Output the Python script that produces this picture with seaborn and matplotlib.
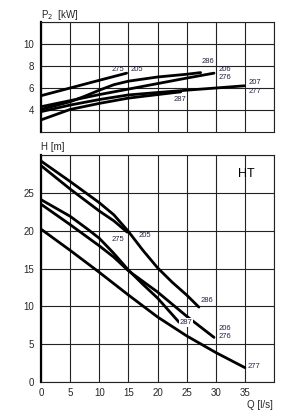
import numpy as np
import pandas as pd
import matplotlib
matplotlib.use("Agg")
import matplotlib.pyplot as plt
import seaborn as sns

# ---- data ----
# Power P2 [kW] vs Q [l/s]
p275_q = [0, 5, 10, 14.7]
p275_v = [5.3, 6.0, 6.7, 7.35]
p286_q = [0, 5, 7.5, 10, 12.5, 15, 20, 25, 27.4]
p286_v = [4.05, 4.75, 5.25, 5.8, 6.3, 6.62, 7.0, 7.25, 7.4]
p276_q = [0, 5, 10, 15, 20, 25, 29.7]
p276_v = [4.3, 4.85, 5.4, 5.9, 6.4, 6.9, 7.35]
p277_q = [0, 5, 10, 15, 20, 25, 30, 34.9]
p277_v = [3.85, 4.45, 4.95, 5.37, 5.59, 5.8, 6.0, 6.2]
p287_q = [0, 5, 10, 15, 20, 24]
p287_v = [3.1, 4.05, 4.6, 5.08, 5.4, 5.65]

# Head H [m] vs Q [l/s]
h286_q = [0, 5, 10, 12.5, 15, 17.5, 20, 22.5, 25, 27.1]
h286_v = [29.2, 26.5, 23.7, 22.1, 19.9, 17.4, 15.1, 13.2, 11.5, 9.9]
h275_q = [0, 5, 10, 12.5, 14.8]
h275_v = [28.6, 25.5, 22.6, 21.3, 19.8]
h287_q = [0, 5, 8, 10, 12.5, 15, 17.5, 20, 23.7]
h287_v = [24.1, 21.9, 20.2, 19.0, 17.0, 14.8, 12.9, 11.1, 7.9]
h276_q = [0, 5, 10, 12.5, 15, 20, 25, 29.7]
h276_v = [23.5, 20.8, 18.0, 16.5, 14.7, 11.9, 8.7, 5.9]
h277_q = [0, 5, 10, 15, 20, 25, 30, 35]
h277_v = [20.2, 17.4, 14.5, 11.5, 8.6, 6.1, 3.9, 1.9]

x_ticks = [0, 5, 10, 15, 20, 25, 30, 35]
p_ticks = [4, 6, 8, 10]
h_ticks = [0, 5, 10, 15, 20, 25]

# ---- build tables ----
def long(series, col):
    frames = []
    for name, q, v in series:
        frames.append(pd.DataFrame({"Q": q, col: v, "pump": name}))
    return pd.concat(frames, ignore_index=True)

dfp = long([("275", p275_q, p275_v), ("286", p286_q, p286_v),
            ("276", p276_q, p276_v), ("277", p277_q, p277_v),
            ("287", p287_q, p287_v)], "P")
dfh = long([("286", h286_q, h286_v), ("275", h275_q, h275_v),
            ("287", h287_q, h287_v), ("276", h276_q, h276_v),
            ("277", h277_q, h277_v)], "H")

sns.set_style("white")
plt.rcParams['font.family'] = ['Liberation Sans', 'DejaVu Sans']

fig = plt.figure(figsize=(2.85, 4.16), dpi=100)
ax1 = fig.add_axes([0.1439, 0.6827, 0.8175, 0.2644])
ax2 = fig.add_axes([0.1439, 0.0817, 0.8175, 0.5457])

lw = 2.0
sns.lineplot(data=dfp, x="Q", y="P", units="pump", estimator=None, sort=False,
             color="black", lw=lw, ax=ax1, legend=False)
sns.lineplot(data=dfh, x="Q", y="H", units="pump", estimator=None, sort=False,
             color="black", lw=lw, ax=ax2, legend=False)

grid_c = "#222222"
for ax, yl, yt in [(ax1, (2, 12), p_ticks), (ax2, (0, 30), h_ticks)]:
    ax.set_xlim(0, 40)
    ax.set_ylim(*yl)
    ax.set_xticks([0, 5, 10, 15, 20, 25, 30, 35, 40])
    ax.set_yticks(list(yt) + [yl[1]])
    ax.grid(True, color=grid_c, lw=0.8)
    ax.set_axisbelow(True)
    for s in ["top", "right", "bottom"]:
        ax.spines[s].set_color(grid_c)
        ax.spines[s].set_linewidth(0.8)
    ax.spines["left"].set_color("black")
    ax.spines["left"].set_linewidth(1.6)
    ax.set_xlabel("")
    ax.set_ylabel("")
    ax.tick_params(axis="y", direction="out", length=3, width=0.8, labelsize=7, pad=2)
    ax.tick_params(axis="x", direction="inout", length=5, width=0.8, labelsize=7, pad=2)

ax1.set_yticklabels([str(t) for t in p_ticks] + [""])
ax1.tick_params(axis="x", labelbottom=False, length=0)
ax2.set_yticklabels([str(t) for t in h_ticks] + [""])
ax2.set_xticklabels([str(t) for t in x_ticks] + [""])

# axis titles
fig.text(41/285, 1 - 15/416, r"P$_2$  [kW]", fontsize=7, ha="left", va="center")
fig.text(41/285, 1 - 147/416, "H [m]", fontsize=7, ha="left", va="center")
fig.text(273/285, 1 - 405/416, "Q [l/s]", fontsize=7, ha="right", va="center")

fs = 5.5
tc = "#222244"
# top panel labels
ax1.text(14.3, 7.65, "275", fontsize=fs, color=tc, ha="right", va="center")
ax1.text(15.3, 7.65, "205", fontsize=fs, color=tc, ha="left", va="center")
ax1.text(28.7, 8.45, "286", fontsize=fs, color=tc, ha="center", va="center")
ax1.text(30.4, 7.64, "206", fontsize=fs, color=tc, ha="left", va="center")
ax1.text(30.4, 6.97, "276", fontsize=fs, color=tc, ha="left", va="center")
ax1.text(35.6, 6.5, "207", fontsize=fs, color=tc, ha="left", va="center")
ax1.text(35.6, 5.67, "277", fontsize=fs, color=tc, ha="left", va="center")
ax1.text(23.9, 4.97, "287", fontsize=fs, color=tc, ha="center", va="center")

# bottom panel labels
ax2.text(14.3, 18.85, "275", fontsize=fs, color=tc, ha="right", va="center")
ax2.text(16.7, 19.3, "205", fontsize=fs, color=tc, ha="left", va="center")
ax2.text(27.4, 10.8, "286", fontsize=fs, color=tc, ha="left", va="center")
ax2.text(23.8, 7.9, "287", fontsize=fs, color=tc, ha="left", va="center",
         bbox=dict(facecolor="white", edgecolor="none", pad=0.6))
ax2.text(30.4, 7.1, "206", fontsize=fs, color=tc, ha="left", va="center")
ax2.text(30.4, 6.05, "276", fontsize=fs, color=tc, ha="left", va="center")
ax2.text(35.5, 2.0, "277", fontsize=fs, color=tc, ha="left", va="center")
ax2.text(35.2, 27.5, "HT", fontsize=9, color="black", ha="center", va="center")

fig.savefig("out.png", dpi=100)
